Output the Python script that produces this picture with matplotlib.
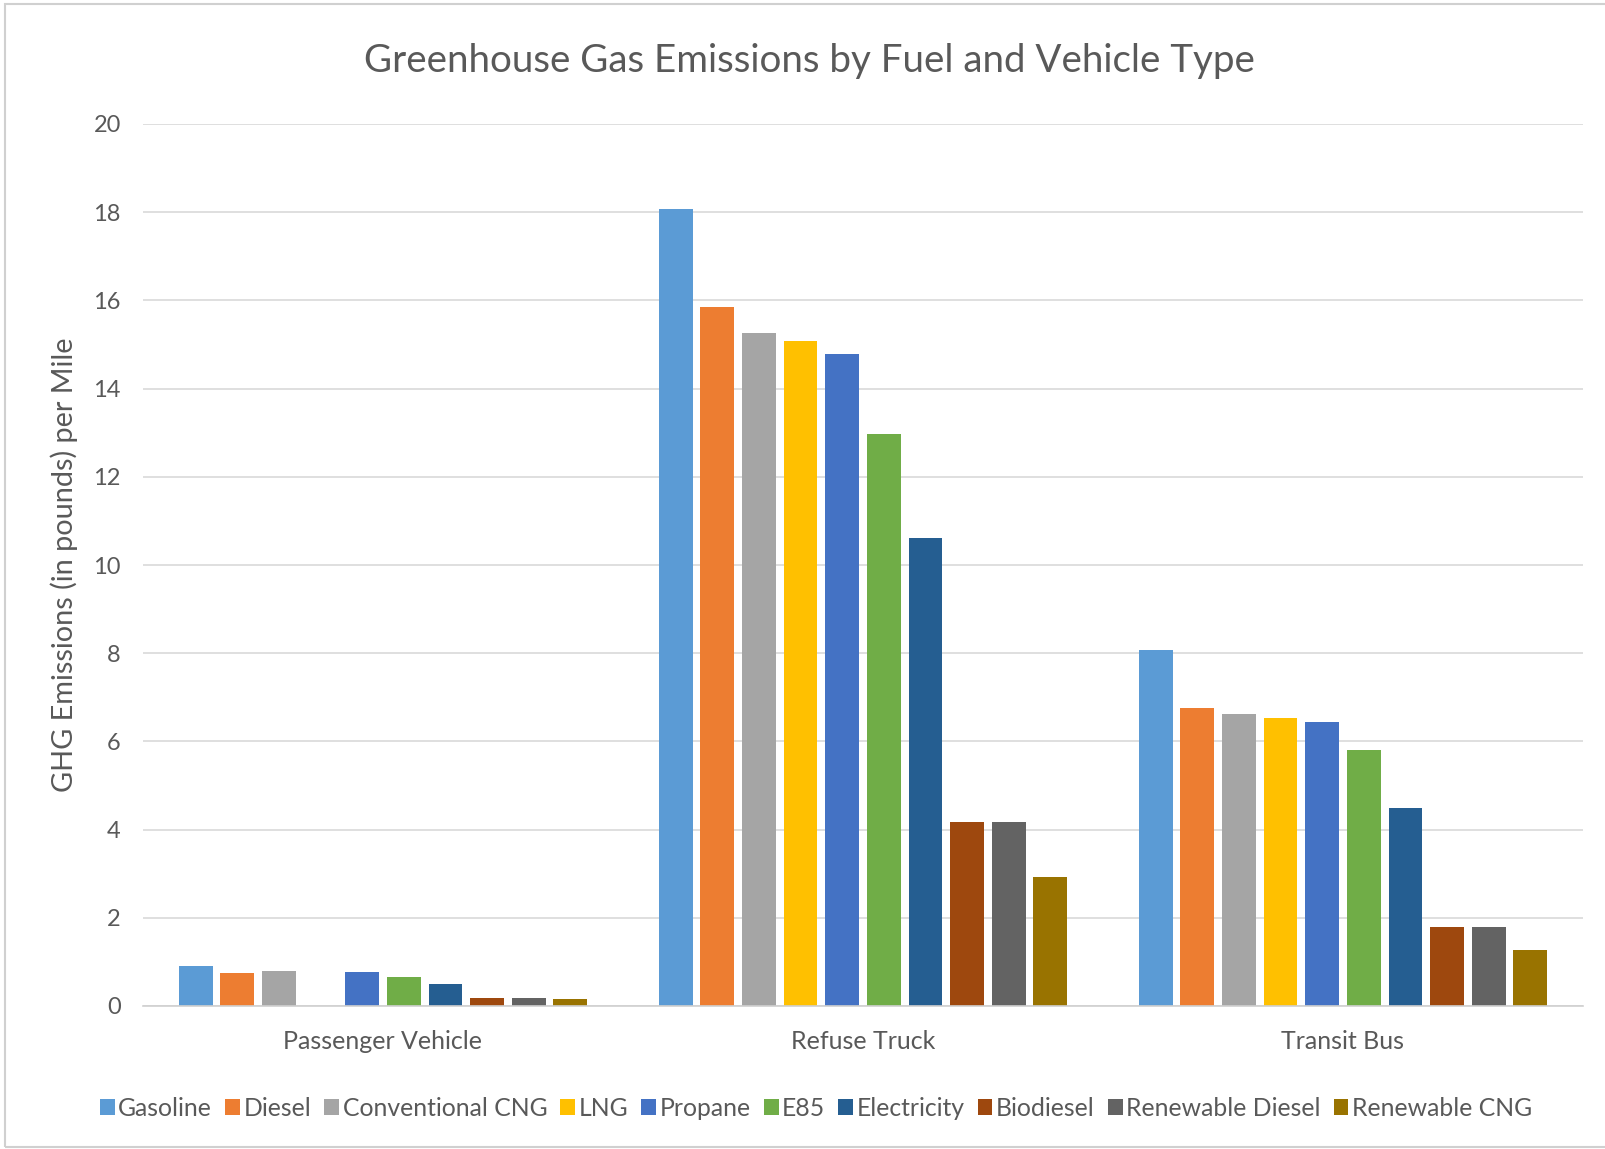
import numpy as np
import matplotlib
matplotlib.use("Agg")
import matplotlib.pyplot as plt
from matplotlib.patches import Rectangle

categories = ["Passenger Vehicle", "Refuse Truck", "Transit Bus"]
fuels = ["Gasoline", "Diesel", "Conventional CNG", "LNG", "Propane", "E85",
         "Electricity", "Biodiesel", "Renewable Diesel", "Renewable CNG"]
colors = ["#5B9BD5", "#ED7D31", "#A5A5A5", "#FFC000", "#4472C4", "#70AD47",
          "#255E91", "#9E480E", "#636363", "#997300"]

passenger = [0.90, 0.75, 0.79, np.nan, 0.78, 0.65, 0.51, 0.19, 0.19, 0.16]
refuse = [18.07, 15.84, 15.27, 15.07, 14.78, 12.96, 10.62, 4.18, 4.18, 2.92]
transit = [8.08, 6.76, 6.62, 6.52, 6.45, 5.81, 4.48, 1.80, 1.80, 1.27]

yticks = [0, 2, 4, 6, 8, 10, 12, 14, 16, 18, 20]

values = np.array([passenger, refuse, transit])  # shape (3, 10)

plt.rcParams['font.family'] = ['Lato', 'DejaVu Sans']
text_color = "#595959"

fig = plt.figure(figsize=(16.06, 11.49), dpi=100)
fig.patch.set_facecolor("white")
fig.patches.append(Rectangle((5/1606, 2/1149), 1.0, 1 - 6/1149,
                             transform=fig.transFigure, fill=False,
                             edgecolor="#D0D0D0", linewidth=1.5))

ax = fig.add_axes([143/1606, 1 - 1006/1149, 1440/1606, (1006 - 124)/1149])

slot = 0.0868
bw = 0.0708
x = np.arange(len(categories))
n = len(fuels)
for i, (f, c) in enumerate(zip(fuels, colors)):
    offs = (i - (n - 1) / 2) * slot
    ax.bar(x + offs, values[:, i], width=bw, color=c, label=f, zorder=3)

ax.set_xlim(-0.5, 2.5)
ax.set_ylim(0, 20)
ax.set_yticks(yticks)
ax.set_yticklabels([str(t) for t in yticks])
ax.set_xticks(x)
ax.set_xticklabels(categories)
ax.grid(axis="y", color="#D9D9D9", linewidth=1.2, zorder=0)
for s in ["top", "right", "left"]:
    ax.spines[s].set_visible(False)
ax.spines["bottom"].set_color("#D0D0D0")
ax.spines["bottom"].set_linewidth(1.2)
ax.spines["bottom"].set_zorder(4)
ax.tick_params(axis="y", length=0, pad=16, labelsize=17, labelcolor=text_color)
ax.tick_params(axis="x", length=0, pad=17, labelsize=18, labelcolor=text_color)

ax.set_ylabel("GHG Emissions (in pounds) per Mile", fontsize=20.8, color=text_color)
ax.yaxis.set_label_coords(-0.045, 0.5)

fig.text(809/1606, 1 - 61/1149, "Greenhouse Gas Emissions by Fuel and Vehicle Type",
         ha="center", va="center", fontsize=27.7, color=text_color)

fig.legend(loc="center", bbox_to_anchor=(816/1606, 1 - 1108/1149), ncol=10,
           frameon=False, fontsize=17.8, handlelength=0.6, handleheight=0.6,
           handletextpad=0.15, columnspacing=0.52, labelcolor=text_color,
           borderaxespad=0)

fig.savefig("out.png", dpi=100, facecolor="white")
